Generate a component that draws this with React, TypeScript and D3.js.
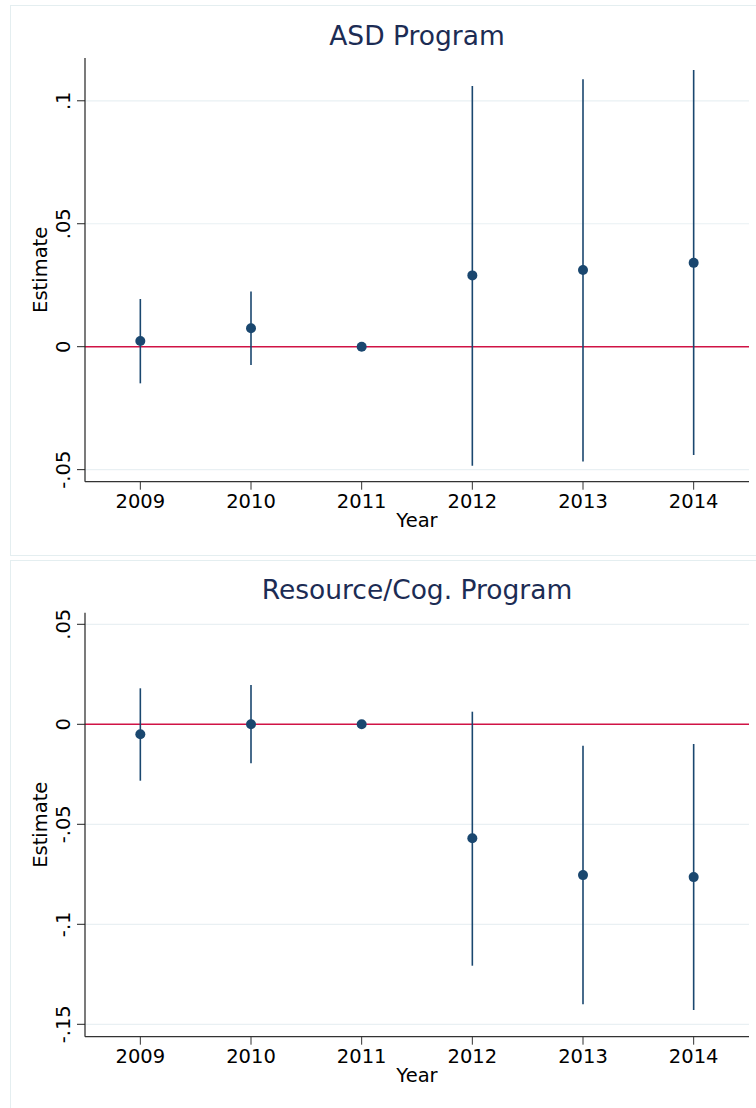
import * as d3 from "d3";

// years on the x axis
const years = [2009, 2010, 2011, 2012, 2013, 2014];

// ASD Program: point estimates and confidence bounds (2011 = reference year)
const asdEst = [0.0023, 0.0075, 0, 0.029, 0.0312, 0.0341];
const asdLo = [-0.0149, -0.0074, 0, -0.0484, -0.0467, -0.044];
const asdHi = [0.0194, 0.0224, 0, 0.106, 0.1088, 0.1125];
const asdTicks = [-0.05, 0, 0.05, 0.1];
const asdTickLabels = ["-.05", "0", ".05", ".1"];

// Resource/Cog. Program
const cogEst = [-0.005, 0.0, 0, -0.057, -0.0754, -0.0764];
const cogLo = [-0.0282, -0.0195, 0, -0.1207, -0.14, -0.1429];
const cogHi = [0.018, 0.0197, 0, 0.0063, -0.0107, -0.0099];
const cogTicks = [-0.15, -0.1, -0.05, 0, 0.05];
const cogTickLabels = ["-.15", "-.1", "-.05", "0", ".05"];

const FONT = "DejaVu Sans, sans-serif";
const NAVY = "#1a476f";
const RED = "#d01345";
const GRID = "#e9f0f3";
const BORDER = "#e4eef0";
const TITLE = "#1c2c54";

function Panel({ title, top, bottom, yDomain, plotTop, plotBottom, est, lo, hi, ticks, tickLabels }) {
  const left = 85;
  const right = 749;
  const x = d3.scaleLinear().domain([2008.5, 2014.5]).range([left, right]);
  const y = d3.scaleLinear().domain(yDomain).range([plotBottom, plotTop]);
  const cx = (left + right) / 2;
  const midY = (plotTop + plotBottom) / 2;

  return (
    <g>
      <rect x={10.5} y={top} width={760} height={bottom - top} fill="#fff" stroke={BORDER} strokeWidth={1} />
      <text x={cx} y={plotTop - 13.5} textAnchor="middle" fontSize={26.5} fill={TITLE} fontFamily={FONT}>
        {title}
      </text>

      {/* gridlines */}
      {ticks.filter((t) => t !== 0).map((t) => (
        <line key={"g" + t} x1={left} x2={right} y1={y(t)} y2={y(t)} stroke={GRID} strokeWidth={1.2} />
      ))}

      {/* zero reference line */}
      <line x1={left} x2={right} y1={y(0)} y2={y(0)} stroke={RED} strokeWidth={1.4} />

      {/* confidence intervals */}
      {years.map((yr, i) =>
        lo[i] !== hi[i] ? (
          <line key={"ci" + yr} x1={x(yr)} x2={x(yr)} y1={y(lo[i])} y2={y(hi[i])} stroke={NAVY} strokeWidth={1.6} />
        ) : null
      )}

      {/* point estimates */}
      {years.map((yr, i) => (
        <circle key={"p" + yr} cx={x(yr)} cy={y(est[i])} r={5} fill={NAVY} />
      ))}

      {/* y axis */}
      <line x1={left} x2={left} y1={plotTop} y2={plotBottom} stroke="#222" strokeWidth={1.2} />
      {ticks.map((t, i) => (
        <g key={"yt" + t}>
          <line x1={left - 8} x2={left} y1={y(t)} y2={y(t)} stroke="#222" strokeWidth={1} />
          <text
            transform={`translate(${70},${y(t)}) rotate(-90)`}
            textAnchor="middle"
            fontSize={19.5}
            fontFamily={FONT}
            fill="#000"
          >
            {tickLabels[i]}
          </text>
        </g>
      ))}
      <text
        transform={`translate(${46.5},${midY}) rotate(-90)`}
        textAnchor="middle"
        fontSize={19.5}
        fontFamily={FONT}
        fill="#000"
      >
        Estimate
      </text>

      {/* x axis */}
      <line x1={left} x2={right} y1={plotBottom} y2={plotBottom} stroke="#333" strokeWidth={1.2} />
      {years.map((yr) => (
        <g key={"xt" + yr}>
          <line x1={x(yr)} x2={x(yr)} y1={plotBottom} y2={plotBottom + 8} stroke="#333" strokeWidth={1} />
          <text x={x(yr)} y={plotBottom + 26} textAnchor="middle" fontSize={19.5} fontFamily={FONT} fill="#000">
            {yr}
          </text>
        </g>
      ))}
      <text x={cx} y={plotBottom + 45} textAnchor="middle" fontSize={19.5} fontFamily={FONT} fill="#000">
        Year
      </text>
    </g>
  );
}

export default function App() {
  return (
    <svg
      width={756}
      height={1108}
      style={{ position: "absolute", left: 0, top: 0, background: "#fff" }}
    >
      <rect width={756} height={1108} fill="#fff" />
      <Panel
        title="ASD Program"
        top={5.5}
        bottom={555.5}
        yDomain={[-0.0549, 0.1174]}
        plotTop={58}
        plotBottom={481.7}
        est={asdEst}
        lo={asdLo}
        hi={asdHi}
        ticks={asdTicks}
        tickLabels={asdTickLabels}
      />
      <Panel
        title="Resource/Cog. Program"
        top={560.5}
        bottom={1130}
        yDomain={[-0.1562, 0.0558]}
        plotTop={612.7}
        plotBottom={1036.7}
        est={cogEst}
        lo={cogLo}
        hi={cogHi}
        ticks={cogTicks}
        tickLabels={cogTickLabels}
      />
    </svg>
  );
}
